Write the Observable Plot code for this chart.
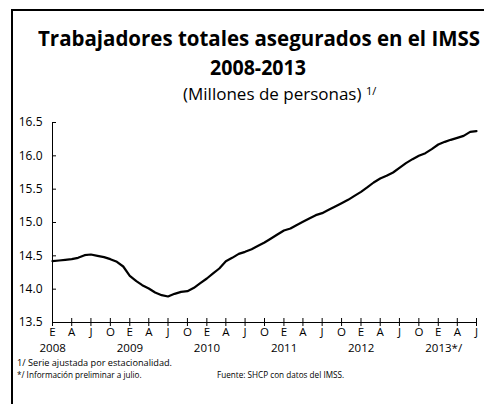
<!DOCTYPE html>
<html><head><meta charset="utf-8">
<script src="https://cdn.jsdelivr.net/npm/d3@7"></script>
<script src="https://cdn.jsdelivr.net/npm/@observablehq/plot@0.6"></script>
<style>
body{margin:0;background:#fff;}
#wrap{position:relative;width:484px;height:404px;overflow:hidden;font-family:"Open Sans",sans-serif;color:#000;background:#fff;}
.t{position:absolute;white-space:nowrap;line-height:1;}
#boxL{position:absolute;left:11px;top:9px;width:2px;height:400px;background:#000;}
#boxT{position:absolute;left:11px;top:9px;width:480px;height:2px;background:#000;}
#chart{position:absolute;left:0;top:110px;}
sup{font-size:0.65em;vertical-align:0.45em;}
</style></head><body>
<div id="wrap">
<div id="boxL"></div><div id="boxT"></div>
<div class="t" id="t1" style="font-size:21px;font-weight:700;">Trabajadores totales asegurados en el IMSS</div>
<div class="t" id="t2" style="font-size:21px;font-weight:700;">2008-2013</div>
<div class="t" id="t3" style="font-size:17px;">(Millones de personas) <sup>1/</sup></div>
<div id="chart"></div>
<div class="t" id="f1" style="font-size:9.5px;">1/ Serie ajustada por estacionalidad.</div>
<div class="t" id="f2" style="font-size:9.5px;">*/ Información preliminar a julio.</div>
<div class="t" id="f3" style="font-size:9.5px;">Fuente: SHCP con datos del IMSS.</div>
</div>
<script>
// Data: monthly, Jan 2008 – Jul 2013 (millions of insured workers, seasonally adjusted)
const startYear = 2008;
const values = [
  14.42, 14.43, 14.44, 14.45, 14.47, 14.51, 14.52, 14.50, 14.48, 14.45, 14.41, 14.34, // 2008
  14.20, 14.12, 14.06, 14.01, 13.95, 13.91, 13.89, 13.93, 13.96, 13.97, 14.02, 14.09, // 2009
  14.16, 14.24, 14.31, 14.42, 14.47, 14.53, 14.56, 14.60, 14.65, 14.70, 14.76, 14.82, // 2010
  14.88, 14.91, 14.96, 15.01, 15.06, 15.11, 15.14, 15.19, 15.24, 15.29, 15.34, 15.40, // 2011
  15.46, 15.53, 15.60, 15.66, 15.70, 15.75, 15.82, 15.89, 15.95, 16.00, 16.04, 16.10, // 2012
  16.17, 16.21, 16.24, 16.27, 16.30, 16.36, 16.37                                      // 2013
];
const quarterLabels = ["E", "A", "J", "O"];
const yearLabels = ["2008", "2009", "2010", "2011", "2012", "2013*/"];
const yTicks = [13.5, 14.0, 14.5, 15.0, 15.5, 16.0, 16.5];

const data = values.map((v, i) => ({date: new Date(Date.UTC(startYear, i, 1)), value: v}));
const x0 = data[0].date, x1 = data[data.length - 1].date;
const quarterTicks = d3.utcMonth.every(3).range(x0, new Date(+x1 + 1));
const years = yearLabels.map((label, i) => ({date: new Date(Date.UTC(startYear + i, 0, 1)), label}));

const chart = Plot.plot({
  width: 484, height: 250,
  marginLeft: 52, marginRight: 8, marginTop: 12, marginBottom: 38,
  style: {fontFamily: "Open Sans", fontSize: "12px", color: "#000", background: "transparent", overflow: "visible"},
  x: {type: "utc", domain: [x0, x1]},
  y: {domain: [13.5, 16.5]},
  marks: [
    Plot.axisY(yTicks, {tickSize: 0, tickPadding: 10, tickFormat: d => d.toFixed(1), label: null, fontSize: 12}),
    Plot.axisY(yTicks, {tickSize: -4, tickFormat: () => "", label: null}),
    Plot.axisX(quarterTicks, {tickSize: 4, tickPadding: 1, tickFormat: d => quarterLabels[d.getUTCMonth() / 3], label: null, fontSize: 11.5}),
    Plot.axisX(quarterTicks, {tickSize: -4, tickFormat: () => "", label: null}),
    Plot.text(years, {x: "date", text: "label", frameAnchor: "bottom", dy: 29, dx: -13, textAnchor: "start", fontSize: 11.5}),
    Plot.ruleX([x0], {stroke: "#000"}),
    Plot.ruleY([13.5], {stroke: "#000"}),
    Plot.line(data, {x: "date", y: "value", stroke: "#000", strokeWidth: 2.2})
  ]
});
document.getElementById("chart").appendChild(chart);

function place(id, left, top, width, scale) {
  const el = document.getElementById(id);
  el.style.left = left + "px";
  el.style.top = top + "px";
  let s = scale;
  if (width) s = width / el.getBoundingClientRect().width;
  if (s) {
    el.style.transformOrigin = "0 0";
    el.style.transform = `scaleX(${s})`;
  }
}
place("t1", 38, 28, 442);
place("t2", 210, 57, 96);
place("t3", 183, 85);
place("f1", 17, 357.5, 155);
place("f2", 17, 370, null, 0.86);
place("f3", 217, 370, null, 0.86);
</script>
</body></html>
